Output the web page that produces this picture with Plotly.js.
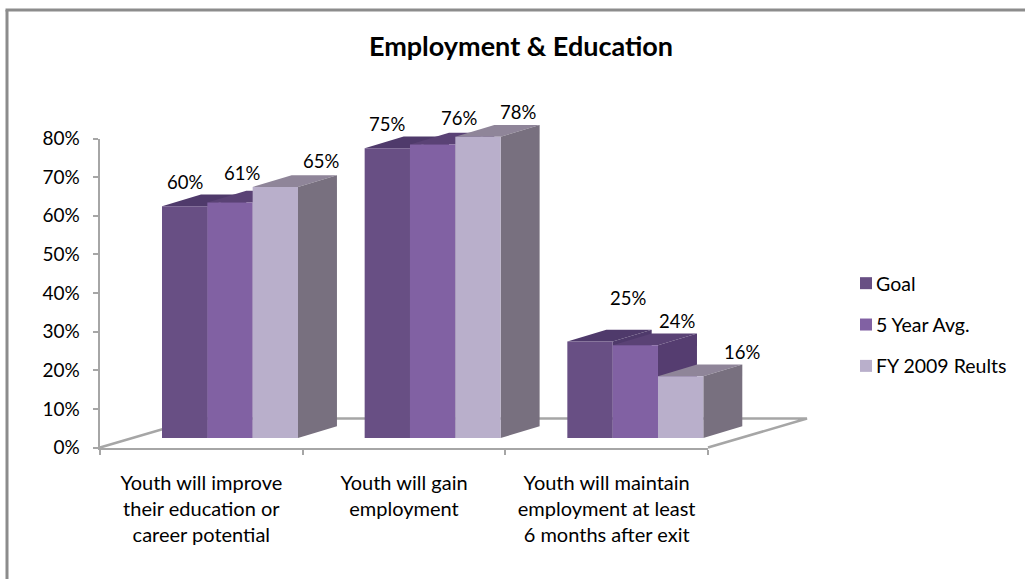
<!DOCTYPE html>
<html><head><meta charset="utf-8">
<script src="https://cdn.plot.ly/plotly-3.0.1.min.js"></script>
<style>html,body{margin:0;padding:0;background:#fff}</style></head>
<body><div id="chart" style="width:1025px;height:579px"></div>
<script>
const categories = ["Youth will improve<br>their education or<br>career potential","Youth will gain<br>employment","Youth will maintain<br>employment at least<br>6 months after exit"];
const categoryIndex = [1,2,3];
const goal = [60,75,25];
const fiveYear = [61,76,24];
const fy2009 = [65,78,16];
const seriesNames = ["Goal","5 Year Avg.","FY 2009 Reults"];
const frontColors = ["#684f84","#8161a3","#b9afcb"];
const topColors = ["#4f3a6b","#5a4275","#8f8599"];
const sideColors = ["#4f3a6b","#553d70","#78707f"];
const labelShiftX = [[0,12,46],[0,26,40],[38,42,61]];
const labelShiftY = [[24,29,26],[24,26,25],[43,24,24]];
const yTickVals = [0,10,20,30,40,50,60,70,80];
const yTickText = ["0%","10%","20%","30%","40%","50%","60%","70%","80%"];
const allSeries = [goal,fiveYear,fy2009];

const FONT = "Lato, 'Open Sans', sans-serif";
const W = 1025, H = 579;
const xShift = 0.1414, yShift = 2.46, depthX = 0.1924, depthY = 3.03, barW = 0.2236;
const wideX = [80,860], wideY = [460,90];           // pixel span of the subplots that hold the marks
const axisX = [100,708], axisY = [447.5,138.5];     // pixel span of the visible axes
const xUnit = (axisX[1]-axisX[0])/3, yUnit = (axisY[0]-axisY[1])/80;
const rangeX = wideX.map(p=>0.5+(p-axisX[0])/xUnit);
const rangeY = wideY.map(p=>(axisY[0]-p)/yUnit);
const domX = s=>[s[0]/W,s[1]/W];
const domY = s=>[1-s[0]/H,1-s[1]/H];

const traces = [];
// floor
traces.push({x:[0.5,0.5+0.4885,3.5+0.4885,3.5],y:[0,7.5,7.5,0],mode:"lines",line:{color:"#a6a6a6",width:2.5},
  xaxis:"x",yaxis:"y",showlegend:false,hoverinfo:"skip"});
// depth faces (below the front faces)
allSeries.forEach((vals,s)=>{
  vals.forEach((v,i)=>{
    const x0 = categoryIndex[i]+xShift+(s-1.5)*barW, x1 = x0+barW;
    const y0 = yShift, y1 = v+yShift;
    traces.push({x:[x0,x1,x1+depthX,x0+depthX,x0],y:[y1,y1,y1+depthY,y1+depthY,y1],mode:"lines",fill:"toself",
      fillcolor:topColors[s],line:{width:0},xaxis:"x",yaxis:"y",showlegend:false,hoverinfo:"skip"});
    traces.push({x:[x1,x1+depthX,x1+depthX,x1,x1],y:[y0,y0+depthY,y1+depthY,y1,y0],mode:"lines",fill:"toself",
      fillcolor:sideColors[s],line:{width:0},xaxis:"x",yaxis:"y",showlegend:false,hoverinfo:"skip"});
  });
});
// front faces
allSeries.forEach((vals,s)=>{
  traces.push({type:"bar",name:seriesNames[s],x:categoryIndex,y:vals,marker:{color:frontColors[s],line:{width:0}},
    xaxis:"x2",yaxis:"y2",legendgroup:"g"+s,hovertemplate:"%{y}%<extra>"+seriesNames[s]+"</extra>"});
});
// carrier for the visible axes
traces.push({x:[1],y:[0],mode:"lines",xaxis:"x3",yaxis:"y3",showlegend:false,hoverinfo:"skip"});

const annotations = [];
allSeries.forEach((vals,s)=>{
  vals.forEach((v,i)=>{
    annotations.push({xref:"x2",yref:"y2",x:categoryIndex[i]+(s-1)*barW,y:v,text:v+"%",showarrow:false,
      xshift:labelShiftX[i][s],yshift:labelShiftY[i][s],xanchor:"center",yanchor:"middle",
      font:{family:FONT,size:18.5,color:"#000"}});
  });
});
const layout = {
  width:W,height:H,paper_bgcolor:"#fff",plot_bgcolor:"rgba(0,0,0,0)",
  margin:{l:0,r:0,t:0,b:0,autoexpand:false},
  title:{text:"<b>Employment &amp; Education</b>",font:{family:FONT,size:27,color:"#000"},x:521/W,xanchor:"center",y:1-47/H,yanchor:"middle"},
  barmode:"group",bargap:0.329,bargroupgap:0,
  xaxis:{domain:domX(wideX),range:rangeX,visible:false,anchor:"y"},
  yaxis:{domain:domY(wideY),range:rangeY,visible:false,anchor:"x"},
  xaxis2:{domain:domX(wideX),range:rangeX.map(v=>v-xShift),visible:false,anchor:"y2"},
  yaxis2:{domain:domY(wideY),range:rangeY.map(v=>v-yShift),visible:false,anchor:"x2"},
  xaxis3:{domain:domX(axisX),range:[0.5,3.5],anchor:"y3",tickmode:"array",tickvals:categoryIndex,ticktext:categories,ticks:"",showgrid:false,zeroline:false,
    showline:true,linecolor:"#a6a6a6",linewidth:2.5,tickfont:{family:FONT,size:20,color:"#000"},ticklabelstandoff:16,
    minor:{tickmode:"array",tickvals:[0.5,1.5,2.5,3.5],ticks:"outside",ticklen:5,tickcolor:"#a6a6a6",tickwidth:2,showgrid:false}},
  yaxis3:{domain:domY(axisY),range:[0,80],anchor:"x3",tickmode:"array",tickvals:yTickVals,ticktext:yTickText,
    ticks:"outside",ticklen:5,tickcolor:"#a6a6a6",tickwidth:2,showgrid:false,zeroline:false,showline:true,linecolor:"#a6a6a6",linewidth:2.5,
    tickfont:{family:FONT,size:19,color:"#000"},ticklabelstandoff:9},
  showlegend:true,
  legend:{x:836/W,xanchor:"left",y:1-264/H,yanchor:"top",traceorder:"grouped",tracegroupgap:13,itemwidth:30,
    font:{family:FONT,size:19.5,color:"#000"},bgcolor:"rgba(0,0,0,0)"},
  annotations:annotations,
  shapes:[
    {type:"line",xref:"paper",yref:"paper",x0:7/W,x1:7/W,y0:0,y1:1-10/H,line:{color:"#8c8c8c",width:3}},
    {type:"line",xref:"paper",yref:"paper",x0:5.5/W,x1:1,y0:1-10/H,y1:1-10/H,line:{color:"#8c8c8c",width:3}}
  ]
};
Plotly.newPlot("chart",traces,layout,{displayModeBar:false,staticPlot:true}).then(gd=>{
  gd.querySelectorAll(".legend .legendsymbols").forEach(g=>g.setAttribute("transform","translate(10,0)"));
});
</script></body></html>
